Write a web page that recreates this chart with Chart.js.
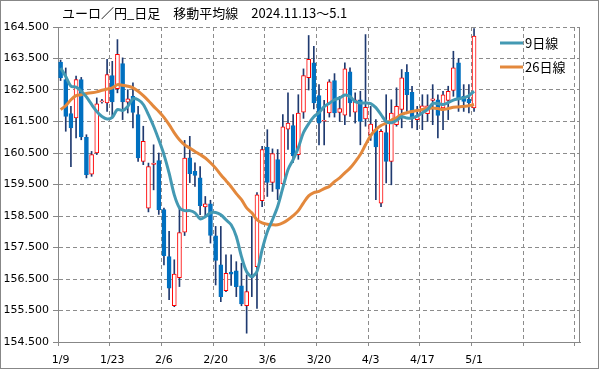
<!DOCTYPE html>
<html>
<head>
<meta charset="utf-8">
<script src="https://cdn.jsdelivr.net/npm/chart.js@4/dist/chart.umd.min.js"></script>
<style>
  html, body { margin: 0; padding: 0; background: #fff; }
  #wrap { width: 599px; height: 369px; position: relative; }
</style>
</head>
<body>
<div id="wrap"><canvas id="chart"></canvas></div>
<script>
/* EUR/JPY daily candles with 9- and 26-day moving averages */

const TITLE = "ユーロ／円_日足　移動平均線　2024.11.13～5.1";

const DATES = [
  "1/9","1/10","1/11","1/12","1/15","1/16","1/17","1/18","1/19","1/22",
  "1/23","1/24","1/25","1/26","1/29","1/30","1/31","2/1","2/2","2/5",
  "2/6","2/7","2/8","2/9","2/12","2/13","2/14","2/15","2/16","2/19",
  "2/20","2/21","2/22","2/26","2/27","2/28","2/29","3/1","3/4","3/5",
  "3/6","3/7","3/8","3/11","3/12","3/13","3/14","3/15","3/18","3/19",
  "3/20","3/21","3/22","3/25","3/26","3/27","3/28","3/29","4/1","4/2",
  "4/3","4/4","4/5","4/8","4/9","4/10","4/11","4/12","4/15","4/16",
  "4/17","4/18","4/19","4/22","4/23","4/24","4/25","4/26","4/29","4/30",
  "5/1"
];
const EMPTY_SLOTS = 20;   // blank days kept on the right of the axis
const TICK_LABELS = ["1/9","1/23","2/6","2/20","3/6","3/20","4/3","4/17","5/1"];

const OPEN = [
  163.39,162.83,161.75,161.61,162.83,161.00,159.83,160.50,162.12,162.09,
  162.96,162.54,163.34,162.11,162.30,161.72,160.23,158.75,160.14,160.26,
  158.70,157.21,155.65,156.54,157.99,160.35,159.92,159.71,158.79,158.89,
  157.87,156.95,156.13,156.72,156.76,156.28,155.65,156.60,156.89,158.99,
  160.68,159.57,160.29,159.52,161.26,161.37,160.45,161.80,162.89,163.36,
  162.32,161.51,161.77,162.80,161.79,161.70,163.08,161.80,162.19,161.58,
  161.08,161.24,158.91,161.15,160.23,161.40,161.88,163.06,162.43,161.56,
  161.77,161.75,162.17,162.19,161.93,162.17,162.49,163.36,162.30,162.20,
  161.93
];
const HIGH = [
  163.45,163.20,161.98,162.94,162.90,161.08,160.55,162.25,162.20,163.47,
  163.41,164.10,163.52,162.51,162.73,161.98,161.35,160.18,160.76,160.50,
  158.75,158.01,157.11,158.80,160.90,161.03,160.19,160.07,159.12,159.00,
  158.17,158.17,157.27,157.27,157.05,157.00,156.63,158.48,159.24,160.71,
  161.24,160.63,160.61,161.72,162.41,161.72,162.35,163.17,164.23,163.89,
  162.67,162.17,162.83,163.02,162.30,163.36,163.20,162.41,162.46,164.26,
  161.98,161.56,161.24,162.35,162.19,162.57,163.15,163.31,162.62,161.98,
  162.35,162.35,162.67,162.35,162.46,162.62,163.73,163.50,162.67,162.67,
  164.45
];
const LOW = [
  162.80,161.19,160.07,160.98,160.92,159.71,159.76,160.45,162.08,161.82,
  161.61,162.41,161.56,161.77,161.30,160.23,160.13,158.63,159.33,158.55,
  156.95,155.84,155.62,156.26,157.88,159.56,159.44,158.54,158.48,157.64,
  156.31,155.78,156.10,156.30,155.94,155.65,154.78,155.94,155.57,158.80,
  159.12,159.28,159.02,159.40,160.61,160.20,160.30,161.60,162.50,161.90,
  160.76,160.76,161.64,161.64,161.50,161.40,161.66,161.45,160.76,161.35,
  160.90,159.02,158.80,159.55,159.49,161.35,161.30,161.82,161.30,161.24,
  161.24,161.50,161.40,160.98,161.24,161.56,162.30,161.82,161.82,161.77,
  161.82
];
const CLOSE = [
  162.89,161.66,161.30,162.83,161.01,159.81,160.45,162.06,162.16,162.99,
  162.12,163.63,162.12,162.22,161.79,160.34,160.87,160.07,160.18,158.70,
  157.24,156.21,156.66,157.97,160.34,159.84,159.79,158.83,158.89,157.88,
  157.09,155.94,156.68,156.65,156.26,155.71,156.10,156.55,159.17,160.61,
  159.57,160.48,159.35,161.33,161.45,160.41,161.77,162.96,163.47,162.09,
  161.45,161.54,162.76,161.77,161.91,163.17,162.09,162.19,161.50,161.95,
  161.42,160.69,161.19,160.23,161.77,161.98,162.89,162.35,161.61,161.69,
  162.00,162.00,162.22,161.69,162.35,162.46,163.20,162.22,162.14,162.10,
  164.21
];

const MA9 = [
  163.20,162.93,162.62,162.59,162.46,162.28,162.04,161.82,161.66,161.58,
  161.63,161.88,161.85,161.98,162.22,162.19,162.04,161.72,161.35,160.92,
  160.45,159.86,159.17,158.76,158.67,158.67,158.60,158.41,158.48,158.60,
  158.61,158.54,158.38,158.22,157.85,157.21,156.73,156.58,156.74,157.43,
  158.00,158.38,158.80,159.39,159.97,160.29,160.67,161.15,161.43,161.65,
  161.78,161.97,162.08,162.19,162.25,162.34,162.29,162.13,162.09,162.09,
  162.07,161.94,161.72,161.50,161.46,161.53,161.65,161.61,161.61,161.67,
  161.78,161.88,162.07,162.07,162.04,162.10,162.18,162.22,162.25,162.32,
  162.46
];
const MA26 = [
  161.88,162.00,162.19,162.32,162.35,162.39,162.41,162.44,162.49,162.53,
  162.57,162.67,162.65,162.62,162.57,162.46,162.32,162.16,161.98,161.82,
  161.63,161.40,161.14,160.92,160.76,160.66,160.55,160.45,160.34,160.19,
  160.02,159.81,159.62,159.43,159.21,159.02,158.76,158.60,158.38,158.28,
  158.24,158.22,158.22,158.28,158.38,158.51,158.67,158.92,159.14,159.24,
  159.28,159.37,159.44,159.59,159.71,159.87,160.02,160.22,160.45,160.76,
  161.05,161.24,161.37,161.45,161.54,161.62,161.73,161.78,161.82,161.85,
  161.88,161.91,161.93,161.91,161.88,161.91,161.95,161.96,161.98,162.00,
  162.04
];

const Y_MIN = 154.5, Y_MAX = 164.5, Y_STEP = 1;

const UP_FILL = "#ffffff", UP_EDGE = "#ff0000";
const DOWN_FILL = "#0070c0";
const WICK = "#1f3a70";
const TEAL = "#4399b3", ORANGE = "#e3883c";
const GRID = "#8c8c8c", AXIS = "#878787";
const FONT = "'DejaVu Sans', sans-serif";
const JP_FONT = "'Noto Sans CJK JP', sans-serif";

const labels = DATES.concat(new Array(EMPTY_SLOTS).fill(""));
const wicks = DATES.map(function (d, i) { return [LOW[i], HIGH[i]]; });
const bodies = DATES.map(function (d, i) { return [OPEN[i], CLOSE[i]]; });
const isUp = DATES.map(function (d, i) { return CLOSE[i] >= OPEN[i]; });

function xGridColor(ctx) {
  return ctx.index % 10 === 0 && ctx.index < labels.length ? GRID : "rgba(0,0,0,0)";
}

const framePlugin = {
  id: "frame",
  beforeDraw(chart) {
    const c = chart.ctx;
    c.save();
    c.fillStyle = "#fff";
    c.fillRect(0, 0, chart.width, chart.height);
    c.strokeStyle = AXIS;
    c.lineWidth = 1;
    c.strokeRect(0.5, 0.5, chart.width - 1, chart.height - 1);
    c.restore();
  },
  beforeDatasetsDraw(chart) {
    const a = chart.chartArea;
    const c = chart.ctx;
    c.save();
    c.strokeStyle = AXIS;
    c.lineWidth = 1;
    c.beginPath();
    c.moveTo(Math.round(a.right) - 0.5, a.top);
    c.lineTo(Math.round(a.right) - 0.5, a.bottom);
    c.stroke();
    c.restore();
  },
  afterDraw(chart) {
    const c = chart.ctx;
    c.save();
    c.fillStyle = "#000";
    c.textBaseline = "middle";
    c.textAlign = "left";
    c.font = "13px " + JP_FONT;
    c.fillText(TITLE, 62, 13);

    // legend inside the plot, top right
    const entries = [chart.data.datasets[0], chart.data.datasets[1]];
    entries.forEach(function (ds, k) {
      const y = 43 + k * 24;
      c.strokeStyle = ds.borderColor;
      c.lineWidth = 3;
      c.beginPath();
      c.moveTo(500, y);
      c.lineTo(523, y);
      c.stroke();
      c.fillText(ds.label, 525, y);
    });
    c.restore();
  }
};

new Chart(document.getElementById("chart"), {
  type: "bar",
  data: {
    labels: labels,
    datasets: [
      {
        type: "line", label: "9日線", data: MA9,
        borderColor: TEAL, borderWidth: 3, pointRadius: 0, tension: 0.3, order: 0,
      },
      {
        type: "line", label: "26日線", data: MA26,
        borderColor: ORANGE, borderWidth: 3, pointRadius: 0, tension: 0.3, order: 1,
      },
      {
        label: "body", data: bodies, grouped: false, barThickness: 4,
        backgroundColor: isUp.map(function (u) { return u ? UP_FILL : DOWN_FILL; }),
        borderColor: isUp.map(function (u) { return u ? UP_EDGE : DOWN_FILL; }),
        borderWidth: 1, borderSkipped: false, order: 2,
      },
      {
        label: "wick", data: wicks, grouped: false, barThickness: 1,
        backgroundColor: WICK, borderWidth: 0, order: 3,
      },
    ],
  },
  options: {
    responsive: true,
    maintainAspectRatio: false,
    animation: false,
    layout: { padding: { top: 27, right: 19, left: 0, bottom: 0 } },
    plugins: { legend: { display: false }, tooltip: { enabled: false }, title: { display: false } },
    scales: {
      x: {
        type: "category",
        offset: true,
        grid: { offset: true, color: xGridColor, tickColor: xGridColor, tickLength: 4, lineWidth: 1 },
        border: { display: true, color: AXIS, width: 1, dash: [4, 3] },
        ticks: {
          autoSkip: false, maxRotation: 0, minRotation: 0, padding: 8,
          color: "#000", font: { family: FONT, size: 11 },
          callback: function (v, i) { return TICK_LABELS.indexOf(labels[i]) >= 0 ? labels[i] : ""; },
        },
        afterFit: function (scale) { scale.height = 27; },
      },
      y: {
        min: Y_MIN, max: Y_MAX,
        grid: { color: GRID, tickColor: AXIS, tickLength: 5, lineWidth: 1 },
        border: { display: true, color: AXIS, width: 1, dash: [4, 3] },
        ticks: {
          stepSize: Y_STEP, padding: 4, color: "#000", font: { family: FONT, size: 11 },
          callback: function (v) { return Number(v).toFixed(3); },
        },
        afterFit: function (scale) { scale.width = 58; },
      },
    },
  },
  plugins: [framePlugin],
});
</script>
</body>
</html>
